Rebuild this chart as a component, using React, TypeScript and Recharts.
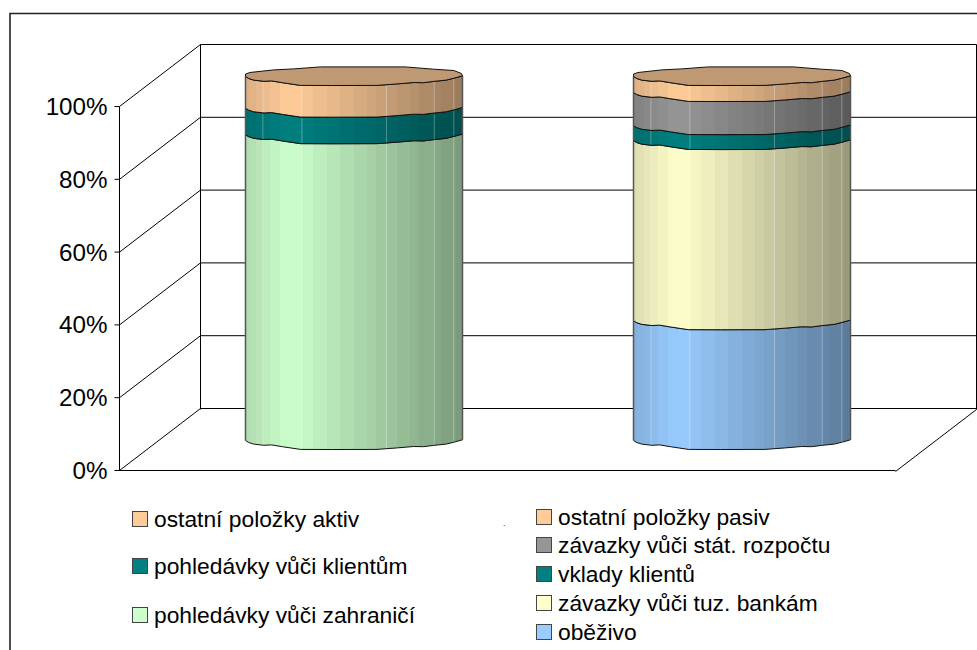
import { Bar, BarChart, CartesianGrid, XAxis, YAxis } from 'recharts';

const categories = ['aktiva', 'pasiva'];
const zahranici = [84, 0];
const klientum = [7.3, 0];
const ostatniAktiv = [8.7, 0];
const obezivo = [0, 32.9];
const bankam = [0, 49.5];
const vklady = [0, 4.1];
const rozpocet = [0, 9.1];
const ostatniPasiv = [0, 4.4];
const yTicks = [0, 20, 40, 60, 80, 100];

const seriesList = [
  { key: 'zahranici', name: 'pohledávky vůči zahraničí', color: '#CCFFCC', values: zahranici },
  { key: 'klientum', name: 'pohledávky vůči klientům', color: '#008080', values: klientum },
  { key: 'ostatniAktiv', name: 'ostatní položky aktiv', color: '#FFCC99', values: ostatniAktiv },
  { key: 'obezivo', name: 'oběživo', color: '#99CCFF', values: obezivo },
  { key: 'bankam', name: 'závazky vůči tuz. bankám', color: '#FFFFCC', values: bankam },
  { key: 'vklady', name: 'vklady klientů', color: '#008080', values: vklady },
  { key: 'rozpocet', name: 'závazky vůči stát. rozpočtu', color: '#969696', values: rozpocet },
  { key: 'ostatniPasiv', name: 'ostatní položky pasiv', color: '#FFCC99', values: ostatniPasiv },
];

const chartData = categories.map((name, i) => {
  const row: Record<string, string | number> = { name };
  seriesList.forEach((s) => {
    row[s.key] = s.values[i];
  });
  return row;
});

const WIDTH = 977;
const HEIGHT = 650;
const MARGIN = { top: 106.5, right: 81.5, bottom: 178.5, left: 59.5 };
const AXIS_WIDTH = 60;
const PLOT_LEFT = MARGIN.left + AXIS_WIDTH;
const PLOT_RIGHT = WIDTH - MARGIN.right;
const PLOT_TOP = MARGIN.top;
const PLOT_BOTTOM = HEIGHT - MARGIN.bottom;
// depth of the fake 3D box
const WALL_DX = 81;
const WALL_DY = 62;
const BAR_DX = 40;
const BAR_DY = -30;

// wobbly outline of the cylinder, [fraction of width, px from the edge level]
const FRONT_EDGE = [
  [0, 0], [0.015, 2], [0.038, 3.6], [0.085, 4.8], [0.12, 4.4], [0.17, 6.2], [0.253, 8.9], [0.4, 9], [0.606, 8.9],
  [0.7, 7.4], [0.775, 6], [0.82, 6.2], [0.867, 4.9], [0.925, 3.6], [0.962, 1.6], [1, -0.7],
];
const BACK_EDGE = [
  [1, -0.7], [0.995, -3], [0.96, -6], [0.867, -7.3], [0.736, -9.6], [0.345, -9.6], [0.222, -7.6], [0.13, -6.6], [0.02, -4], [0, -2.4],
];

// facet bands across the cylinder
const FACETS = [0, 0.015, 0.05, 0.08, 0.115, 0.16, 0.21, 0.26, 0.31, 0.375, 0.435, 0.5, 0.56, 0.6, 0.65, 0.7, 0.76, 0.8, 0.87, 0.9, 0.96, 0.97, 1];
const SEAMS = [0.08, 0.26, 0.65, 0.87, 0.96];

function shade(color: string, k: number) {
  const n = parseInt(color.slice(1), 16);
  const ch = [(n >> 16) & 255, (n >> 8) & 255, n & 255].map((c) => Math.round(c * k));
  return `rgb(${ch.join(',')})`;
}

function brightness(f: number) {
  if (f < 0.21) return 0.86 + (f / 0.21) * 0.14;
  return 1 - ((f - 0.21) / 0.79) * 0.4;
}

function gradientId(color: string) {
  return `cyl-${color.slice(1)}`;
}

function CylinderGradient({ color }: { color: string }) {
  const stops: any[] = [];
  for (let i = 0; i < FACETS.length - 1; i++) {
    const from = FACETS[i];
    const to = FACETS[i + 1];
    const fill = shade(color, brightness((from + to) / 2));
    stops.push(<stop key={`${i}a`} offset={from} stopColor={fill} />);
    stops.push(<stop key={`${i}b`} offset={to} stopColor={fill} />);
  }
  return (
    <linearGradient id={gradientId(color)} x1="0" y1="0" x2="1" y2="0">
      {stops}
    </linearGradient>
  );
}

function edgePath(edge: number[][], x: number, w: number, y: number) {
  return edge.map(([f, d]) => `${x + f * w} ${y + d}`);
}

function CylinderSegment(props: any) {
  const { x, y, width, height, color, isTop } = props;
  if (!height || height <= 0) return null;
  const left = x + BAR_DX;
  const top = y + BAR_DY;
  const bottom = top + height;
  const topEdge = edgePath(FRONT_EDGE, left, width, top);
  const bottomEdge = edgePath(FRONT_EDGE, left, width, bottom);
  const body = `M${topEdge.join(' L')} L${bottomEdge.slice().reverse().join(' L')} Z`;
  const clipId = `clip-${Math.round(left)}-${Math.round(top)}`;
  const capPath = `M${topEdge.join(' L')} L${edgePath(BACK_EDGE, left, width, top).join(' L')} Z`;
  return (
    <g>
      <clipPath id={clipId}>
        <path d={body} />
      </clipPath>
      <path d={body} fill={`url(#${gradientId(color)})`} />
      <g clipPath={`url(#${clipId})`}>
        {SEAMS.map((s) => (
          <line
            key={s}
            x1={left + s * width}
            x2={left + s * width}
            y1={top - 12}
            y2={bottom + 12}
            stroke="#fff"
            strokeOpacity={0.3}
            strokeWidth={1}
          />
        ))}
      </g>
      <path d={`M${bottomEdge.join(' L')}`} fill="none" stroke="#111" strokeWidth={1} />
      <path d={`M${topEdge.join(' L')}`} fill="none" stroke="#111" strokeWidth={1} />
      <line x1={left} x2={left} y1={top} y2={bottom} stroke="#555" strokeWidth={1.5} />
      <line x1={left + width} x2={left + width} y1={top - 0.7} y2={bottom - 0.7} stroke="#555" strokeWidth={1.5} />
      {isTop && <path d={capPath} fill={shade(color, 0.75)} stroke="#111" strokeWidth={1} />}
    </g>
  );
}

// slanted side wall line plus the line across the back wall
function WallLine(props: any) {
  const { x1, x2, y1, index } = props;
  return (
    <g key={`wall-${index}`}>
      <line x1={x1} y1={y1} x2={x1 + WALL_DX} y2={y1 - WALL_DY} stroke="#000" />
      <line x1={x1 + WALL_DX} y1={y1 - WALL_DY} x2={x2 + WALL_DX} y2={y1 - WALL_DY} stroke="#000" />
    </g>
  );
}

const LEFT_LEGEND = ['ostatniAktiv', 'klientum', 'zahranici'];
const RIGHT_LEGEND = ['ostatniPasiv', 'rozpocet', 'vklady', 'bankam', 'obezivo'];

function LegendColumn({ keys, x, rows }: { keys: string[]; x: number; rows: number[] }) {
  return (
    <g>
      {keys.map((k, i) => {
        const s = seriesList.find((item) => item.key === k)!;
        return (
          <g key={k}>
            <rect x={x + 0.5} y={rows[i] - 7.5} width={15} height={15} fill={s.color} stroke="#444" />
            <text x={x + 22} y={rows[i] + 7.5} fontSize={22.8} fill="#000">
              {s.name}
            </text>
          </g>
        );
      })}
    </g>
  );
}

export default function App() {
  return (
    <div style={{ position: 'absolute', left: 0, top: 0, width: WIDTH, height: HEIGHT, overflow: 'hidden', background: '#fff' }}>
      <BarChart
        width={WIDTH}
        height={HEIGHT}
        data={chartData}
        margin={MARGIN}
        style={{ fontFamily: '"Liberation Sans", Arial, sans-serif' }}
      >
        <defs>
          {['#CCFFCC', '#008080', '#FFCC99', '#99CCFF', '#FFFFCC', '#969696'].map((c) => (
            <CylinderGradient key={c} color={c} />
          ))}
        </defs>
        <path d={`M10 ${HEIGHT} V13.5 H${WIDTH}`} fill="none" stroke="#222" strokeWidth={1.6} />
        <CartesianGrid horizontal={WallLine} vertical={false} />
        <path
          d={`M${PLOT_LEFT + WALL_DX} ${PLOT_BOTTOM - WALL_DY} V${PLOT_TOP - WALL_DY} M${PLOT_RIGHT + WALL_DX} ${PLOT_TOP - WALL_DY} V${PLOT_BOTTOM - WALL_DY} L${PLOT_RIGHT} ${PLOT_BOTTOM}`}
          fill="none"
          stroke="#000"
        />
        <XAxis dataKey="name" tick={false} tickLine={false} axisLine={{ stroke: '#000' }} height={1} />
        <YAxis
          domain={[0, 100]}
          ticks={yTicks}
          width={AXIS_WIDTH}
          tickFormatter={(v) => `${v}%`}
          tick={{ fontSize: 24.2, fill: '#000' }}
          tickLine={{ stroke: '#000' }}
          tickSize={5}
          tickMargin={7}
          axisLine={{ stroke: '#000' }}
        />
        {seriesList.map((s, idx) => (
          <Bar
            key={s.key}
            dataKey={s.key}
            name={s.name}
            stackId="a"
            barSize={217}
            isAnimationActive={false}
            shape={(p: any) => (
              <CylinderSegment
                {...p}
                color={s.color}
                isTop={idx === 2 || idx === seriesList.length - 1}
              />
            )}
          />
        ))}
        <LegendColumn keys={LEFT_LEGEND} x={132} rows={[519, 566, 615]} />
        <LegendColumn keys={RIGHT_LEGEND} x={536} rows={[517, 545, 574, 603, 632]} />
        <text x={503} y={526} fontSize={9} fill="#333">.</text>
      </BarChart>
    </div>
  );
}
